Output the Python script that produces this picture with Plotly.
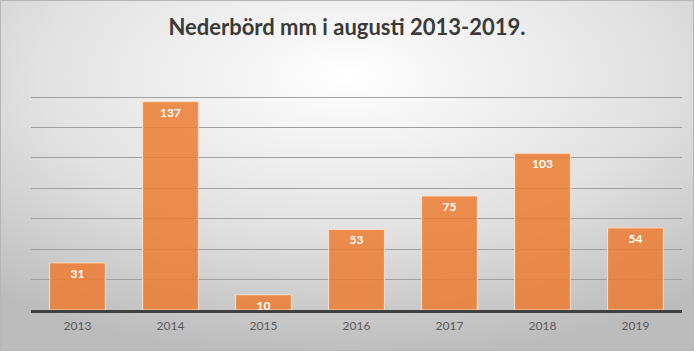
import plotly.graph_objects as go
import base64

years = ["2013", "2014", "2015", "2016", "2017", "2018", "2019"]
rain_mm = [31, 137, 10, 53, 75, 103, 54]
title_text = "Nederbörd mm i augusti 2013-2019."

W, H = 694, 351
ML, MR, MT, MB = 31, 12, 94, 41
pw = W - ML - MR
ph = H - MT - MB

svg = f'''<svg xmlns="http://www.w3.org/2000/svg" width="{W}" height="{H}" viewBox="0 0 {W} {H}">
<defs><radialGradient id="g" cx="50%" cy="22%" r="80%" gradientUnits="objectBoundingBox">
<stop offset="0" stop-color="#ffffff"/><stop offset="0.55" stop-color="#e2e2e2"/><stop offset="1" stop-color="#bcbcbc"/>
</radialGradient></defs>
<rect x="0" y="0" width="{W}" height="{H}" fill="url(#g)"/>
<rect x="0.5" y="0.5" width="{W-1}" height="{H-1}" fill="none" stroke="#b5b5b5" stroke-width="1"/>
</svg>'''
src = "data:image/svg+xml;base64," + base64.b64encode(svg.encode()).decode()

fig = go.Figure()
fig.add_trace(go.Bar(
    x=years, y=rain_mm,
    marker=dict(color="rgba(237,125,49,0.85)", line=dict(color="rgba(252,228,212,0.95)", width=1)),
    width=0.6,
    text=[str(v) for v in rain_mm],
    textposition="inside", insidetextanchor="end", constraintext="none", textangle=0,
    textfont=dict(family="Lato", size=12, color="white", weight="bold"),
    hoverinfo="x+y",
))

fig.add_layout_image(dict(
    source=src, xref="paper", yref="paper",
    x=-ML / pw, y=1 + MT / ph, sizex=W / pw, sizey=H / ph,
    xanchor="left", yanchor="top", sizing="stretch", layer="below",
))

fig.update_layout(
    width=W, height=H,
    margin=dict(l=ML, r=MR, t=MT, b=MB),
    paper_bgcolor="#ffffff", plot_bgcolor="rgba(0,0,0,0)",
    title=dict(text=title_text, x=0.5, xanchor="center", xref="container", y=1 - 27 / H, yanchor="middle",
               font=dict(family="Lato", size=22, color="#3a3a3a", weight="bold")),
    showlegend=False,
    xaxis=dict(type="category", showgrid=False, showline=True, linecolor="#404040", linewidth=3,
               ticks="", ticklabelstandoff=3,
               tickfont=dict(family="Lato", size=12, color="#595959"), fixedrange=True),
    yaxis=dict(range=[0, 142], tickvals=[20, 40, 60, 80, 100, 120, 140], showgrid=True,
               gridcolor="#a0a0a0", gridwidth=1,
               showticklabels=False, zeroline=False, showline=False, fixedrange=True),
)

fig.write_html("out.html")
